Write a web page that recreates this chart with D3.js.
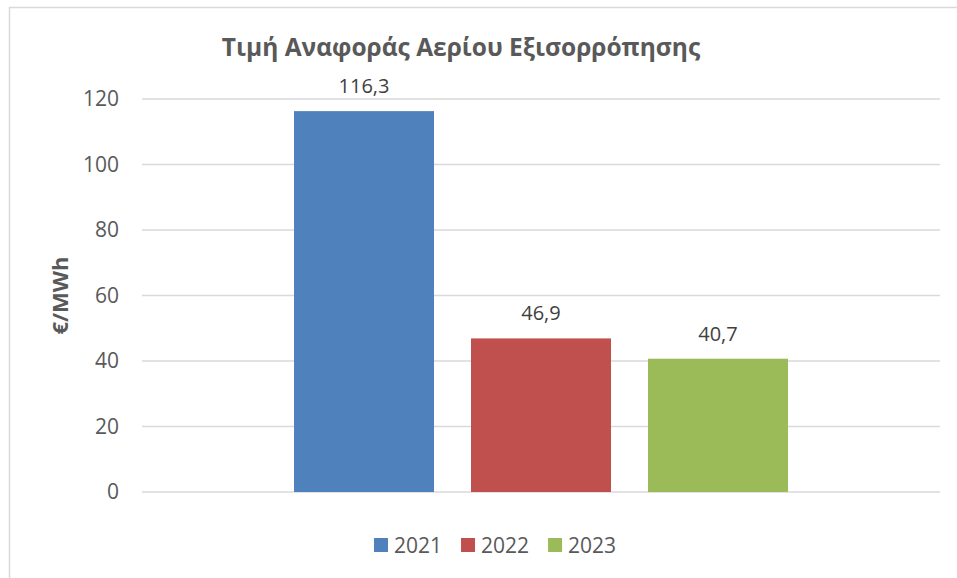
<!DOCTYPE html>
<html><head><meta charset="utf-8">
<script src="https://cdn.jsdelivr.net/npm/d3@7"></script>
<style>body{margin:0;background:#fff}svg{display:block}</style>
</head><body>
<svg id="c" width="957" height="578"></svg>
<script>
const title = "Τιμή Αναφοράς Αερίου Εξισορρόπησης";
const yLabel = "€/MWh";
const years = ["2021", "2022", "2023"];
const values = [116.3, 46.9, 40.7];
const colors = ["#4F81BD", "#C0504D", "#9BBB59"];
const yTicks = [0, 20, 40, 60, 80, 100, 120];

const W = 957, H = 578;
const m = {left: 142, right: 17, top: 99, bottom: 86};
const svg = d3.select("#c");
const font = "'Open Sans', sans-serif";
const txt = "#595959";

// chart border
svg.append("rect").attr("x", 9.5).attr("y", 7.5).attr("width", W).attr("height", H)
  .attr("fill", "none").attr("stroke", "#d9d9d9").attr("stroke-width", 1.5);

const y = d3.scaleLinear().domain([0, 120]).range([H - m.bottom, m.top]);
const x = d3.scaleBand().domain(years).range([m.left, W - m.right])
  .paddingInner(0.209).paddingOuter(0.859);

// gridlines
svg.append("g").selectAll("line").data(yTicks).join("line")
  .attr("x1", m.left).attr("x2", W - m.right)
  .attr("y1", d => y(d)).attr("y2", d => y(d))
  .attr("stroke", "#d9d9d9").attr("stroke-width", 1.5);

// y axis labels
const yAxis = svg.append("g").attr("transform", `translate(${m.left - 23},0)`)
  .call(d3.axisLeft(y).tickValues(yTicks).tickSize(0).tickPadding(0));
yAxis.select(".domain").remove();
yAxis.selectAll("text").attr("fill", txt).style("font-family", font).style("font-size", "21px");

// bars
svg.append("g").selectAll("rect").data(years).join("rect")
  .attr("x", d => x(d)).attr("width", x.bandwidth())
  .attr("y", (d, i) => y(values[i])).attr("height", (d, i) => y(0) - y(values[i]))
  .attr("fill", (d, i) => colors[i]);

// data labels
const fmt = v => d3.format(".1f")(v).replace(".", ",");
svg.append("g").selectAll("text").data(years).join("text")
  .attr("x", d => x(d) + x.bandwidth() / 2)
  .attr("y", (d, i) => y(values[i]) - 18)
  .attr("text-anchor", "middle").attr("fill", "#404040")
  .style("font-family", font).style("font-size", "20px")
  .text((d, i) => fmt(values[i]));

// title
svg.append("text").attr("x", 461).attr("y", 56).attr("text-anchor", "middle")
  .attr("fill", txt).style("font-family", font).style("font-size", "24.5px").style("font-weight", "bold")
  .text(title);

// y label
svg.append("text").attr("transform", `translate(68,${(y(0) + y(120)) / 2}) rotate(-90)`)
  .attr("text-anchor", "middle").attr("fill", txt)
  .style("font-family", font).style("font-size", "22px").style("font-weight", "bold")
  .text(yLabel);

// legend
const lg = svg.append("g");
let lx = 374;
years.forEach((yr, i) => {
  lg.append("rect").attr("x", lx).attr("y", 538).attr("width", 14).attr("height", 14).attr("fill", colors[i]);
  const t = lg.append("text").attr("x", lx + 20).attr("y", 553).attr("fill", txt)
    .style("font-family", font).style("font-size", "21px").text(yr);
  lx += 20 + t.node().getComputedTextLength() + 19;
});
</script>
</body></html>
